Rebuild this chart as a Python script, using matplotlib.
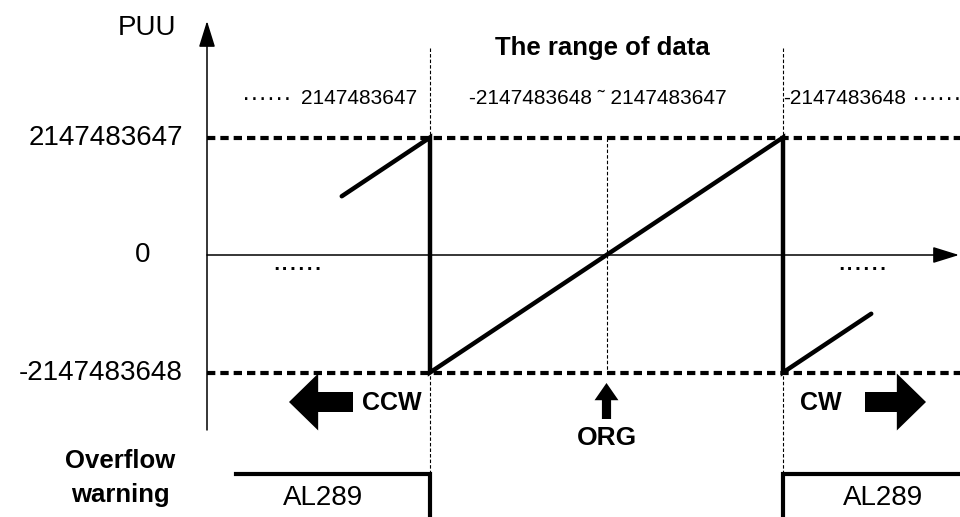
import matplotlib.pyplot as plt

plt.rcParams["font.family"] = ["Liberation Sans", "DejaVu Sans"]
plt.rcParams["lines.scale_dashes"] = False

PUU_MAX = 2147483647
PUU_MIN = -2147483648
U = 2 ** 31

# sawtooth: motor position (in counter periods / 2) against PUU counter value
position = [-1.5, -1.0, -1.0, 1.0, 1.0, 1.5]
puu = [2 ** 30, PUU_MAX, PUU_MIN, PUU_MAX, PUU_MIN, -(2 ** 30)]

y_ticks = [PUU_MAX, 0, PUU_MIN]
y_tick_labels = ["2147483647", "0", "-2147483648"]

wrap_points = [-1.0, 1.0]
org_point = 0.0

# overflow warning signal (1 = AL289 active)
warn_left_x = [-2.1, -1.0, -1.0]
warn_left_level = [1, 1, 0]
warn_right_x = [1.0, 1.0, 2.1]
warn_right_level = [0, 1, 1]
warn_code = "AL289"

range_title = "The range of data"
range_labels = ["2147483647", "-2147483648 \u02dc 2147483647", "-2147483648"]

# layout: pixel -> data mapping of the drawing
X0, SX = 606.5, 176.5
Y0, SY = 255.0, 117.5
W, H = 960, 517


def dx(p):
    return (p - X0) / SX


def dy(p):
    return (Y0 - p) / SY * U


fig = plt.figure(figsize=(9.6, 5.17), dpi=100)
ax = fig.add_axes([0, 0, 1, 1])
ax.set_xlim(dx(0), dx(W))
ax.set_ylim(dy(H), dy(0))
ax.axis("off")

x_axis0 = dx(207)
x_right = dx(W)

# axes with arrows
head = dict(arrowstyle="-|>,head_length=0.9,head_width=0.28", lw=1.1,
            color="black", shrinkA=0, shrinkB=0, mutation_scale=18)
ax.annotate("", xy=(x_axis0, dy(21)), xytext=(x_axis0, dy(430)), arrowprops=head)
ax.annotate("", xy=(dx(959), 0), xytext=(x_axis0, 0), arrowprops=head)

# limit lines
for yv in (PUU_MAX, PUU_MIN):
    ax.plot([x_axis0, x_right], [yv, yv], color="black", lw=3,
            linestyle=(0, (6.0, 3.6)))

# thin dashed guides
guide = dict(color="black", lw=0.8, linestyle=(0, (2.5, 1.5)))
ax.plot([wrap_points[0]] * 2, [dy(48), dy(H)], **guide)
ax.plot([wrap_points[1]] * 2, [dy(48), dy(472)], **guide)
ax.plot([org_point] * 2, [PUU_MAX, PUU_MIN], **guide)

# sawtooth
ax.plot(position, puu, color="black", lw=3.2, solid_capstyle="round",
        solid_joinstyle="miter")

# y labels
ax.text(dx(183), y_ticks[0], y_tick_labels[0], fontsize=20, ha="right", va="center")
ax.text(dx(143), y_ticks[1], y_tick_labels[1], fontsize=20, ha="center", va="center")
ax.text(dx(183), y_ticks[2], y_tick_labels[2], fontsize=20, ha="right", va="center")
ax.text(dx(176), dy(28), "PUU", fontsize=20, ha="right", va="center")

# range annotation
ax.text(dx(602), dy(48), range_title, fontsize=18.5, fontweight="bold",
        ha="center", va="center")
ax.text(dx(242), dy(99), "\u00b7\u00b7\u00b7\u00b7\u00b7\u00b7", fontsize=18,
        ha="left", va="center")
ax.text(dx(417), dy(99), range_labels[0], fontsize=15, ha="right", va="center")
ax.text(dx(598), dy(99), range_labels[1], fontsize=15, ha="center", va="center")
ax.text(dx(783), dy(99), range_labels[2], fontsize=15, ha="left", va="center")
ax.text(dx(912), dy(99), "\u00b7\u00b7\u00b7\u00b7\u00b7\u00b7", fontsize=18,
        ha="left", va="center")

# "......" continuation marks
ax.text(dx(272), dy(270), "......", fontsize=22, ha="left", va="baseline")
ax.text(dx(837), dy(270), "......", fontsize=22, ha="left", va="baseline")

# direction arrows
big = dict(arrowstyle="simple,head_length=1.05,head_width=2.05,tail_width=0.72",
           fc="black", ec="black", lw=0, shrinkA=0, shrinkB=0, mutation_scale=20)
ax.annotate("", xy=(dx(289), dy(402)), xytext=(dx(353), dy(402)), arrowprops=big)
ax.annotate("", xy=(dx(926), dy(402)), xytext=(dx(865), dy(402)), arrowprops=big)
ax.text(dx(362), dy(403), "CCW", fontsize=18, fontweight="bold", ha="left", va="center")
ax.text(dx(800), dy(403), "CW", fontsize=18, fontweight="bold", ha="left", va="center")

small = dict(arrowstyle="simple,head_length=0.62,head_width=0.86,tail_width=0.33",
             fc="black", ec="black", lw=0, shrinkA=0, shrinkB=0, mutation_scale=20)
ax.annotate("", xy=(org_point, dy(383)), xytext=(org_point, dy(419)), arrowprops=small)
ax.text(org_point, dy(438), "ORG", fontsize=19, fontweight="bold",
        ha="center", va="center")

# overflow warning signal
ax_w = fig.add_axes([0, 0, 1, 77 / H])
ax_w.set_xlim(ax.get_xlim())
ax_w.set_ylim(0.2, 0.2 + 0.8 * 77 / 43)
ax_w.axis("off")
ax_w.plot(warn_left_x, warn_left_level, color="black", lw=3, solid_joinstyle="miter")
ax_w.plot(warn_right_x, warn_right_level, color="black", lw=3, solid_joinstyle="miter")
ax.text(dx(323), dy(498), warn_code, fontsize=20, ha="center", va="center")
ax.text(dx(883), dy(498), warn_code, fontsize=20, ha="center", va="center")
ax.text(dx(120), dy(478), "Overflow\nwarning", fontsize=18.5, fontweight="bold",
        ha="center", va="center", linespacing=1.55)

fig.savefig("out.png", dpi=100)
